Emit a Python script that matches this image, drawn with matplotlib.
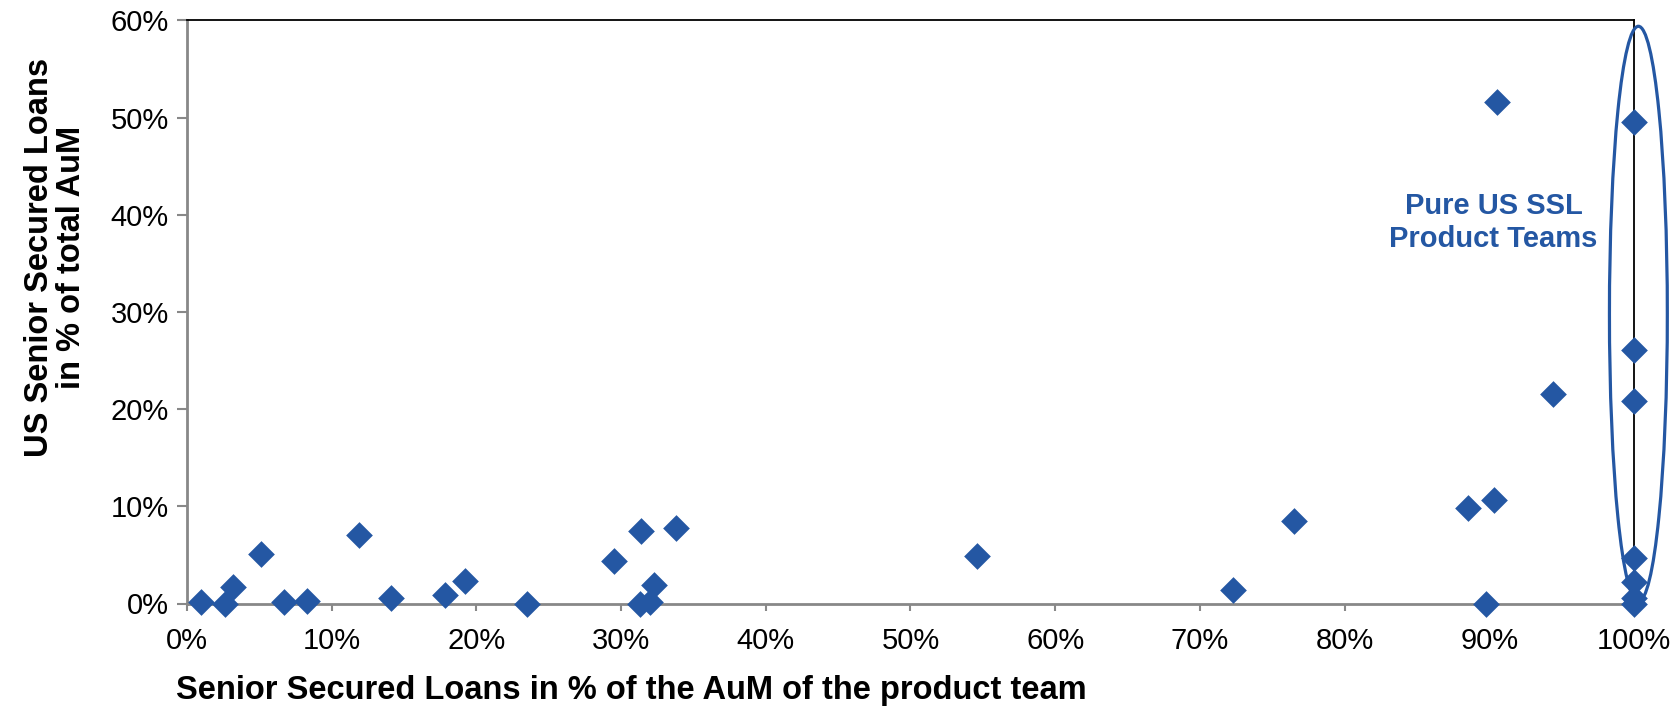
import matplotlib
matplotlib.use("Agg")
from matplotlib import pyplot as plt
from matplotlib.patches import Ellipse
from matplotlib.ticker import FuncFormatter

# share of SSL in product team AuM (%), share of US SSL in total AuM (%)
ssl_share = [1.0, 2.6, 3.2, 5.1, 6.7, 8.3, 11.9, 14.1, 17.8, 19.2, 23.5,
             29.5, 31.4, 33.8, 32.3, 31.3, 32.0, 54.6, 72.3, 76.5, 88.5,
             90.3, 89.8, 90.5, 94.4, 100, 100, 100, 100, 100, 100, 100]
us_ssl_share = [0.2, 0.0, 1.7, 5.1, 0.2, 0.3, 7.1, 0.6, 0.9, 2.3, 0.0,
                4.4, 7.5, 7.8, 1.9, 0.0, 0.2, 4.9, 1.4, 8.5, 9.8,
                10.7, 0.0, 51.6, 21.6, 49.6, 26.1, 20.8, 4.7, 2.2, 0.6, 0.0]

x_ticks = [0, 10, 20, 30, 40, 50, 60, 70, 80, 90, 100]
y_ticks = [0, 10, 20, 30, 40, 50, 60]

blue = "#2457A3"
plt.rcParams["font.family"] = ["Liberation Sans", "DejaVu Sans"]

fig = plt.figure(figsize=(16.72, 7.10), dpi=100)
ax = fig.add_axes([0.1118, 0.15, 0.8655, 0.8212])

ax.scatter(ssl_share, us_ssl_share, marker="D", s=185, color=blue,
           linewidths=0, zorder=3, clip_on=False)

ax.add_patch(Ellipse((100.3, 29.8), 4.0, 59.2, fill=False, edgecolor=blue,
                     linewidth=2.3, clip_on=False, zorder=4))
ax.text(90.3, 39.2, "Pure US SSL\nProduct Teams", color=blue, fontsize=21,
        fontweight="bold", ha="center", va="center", linespacing=1.2)

ax.set_xlim(0, 100)
ax.set_ylim(0, 60)
ax.set_xticks(x_ticks)
ax.set_yticks(y_ticks)
pct = FuncFormatter(lambda v, p: "%d%%" % v)
ax.xaxis.set_major_formatter(pct)
ax.yaxis.set_major_formatter(pct)

for s in ["left", "bottom"]:
    ax.spines[s].set_color("#888888")
    ax.spines[s].set_linewidth(2)
for s in ["top", "right"]:
    ax.spines[s].set_color("black")
    ax.spines[s].set_linewidth(1.3)

ax.tick_params(axis="y", length=7, width=1.5, color="#888888", pad=6, labelsize=21)
ax.tick_params(axis="x", length=5, width=1.5, color="#888888", pad=12, labelsize=21)

fig.text(0.105, 0.027, "Senior Secured Loans in % of the AuM of the product team",
         fontsize=23.5, fontweight="bold", ha="left", va="center")
fig.text(0.033, 0.637, "US Senior Secured Loans\nin % of total AuM", fontsize=23.5,
         fontweight="bold", ha="center", va="center", rotation=90, linespacing=1.05)

fig.savefig("out.png", dpi=100)
